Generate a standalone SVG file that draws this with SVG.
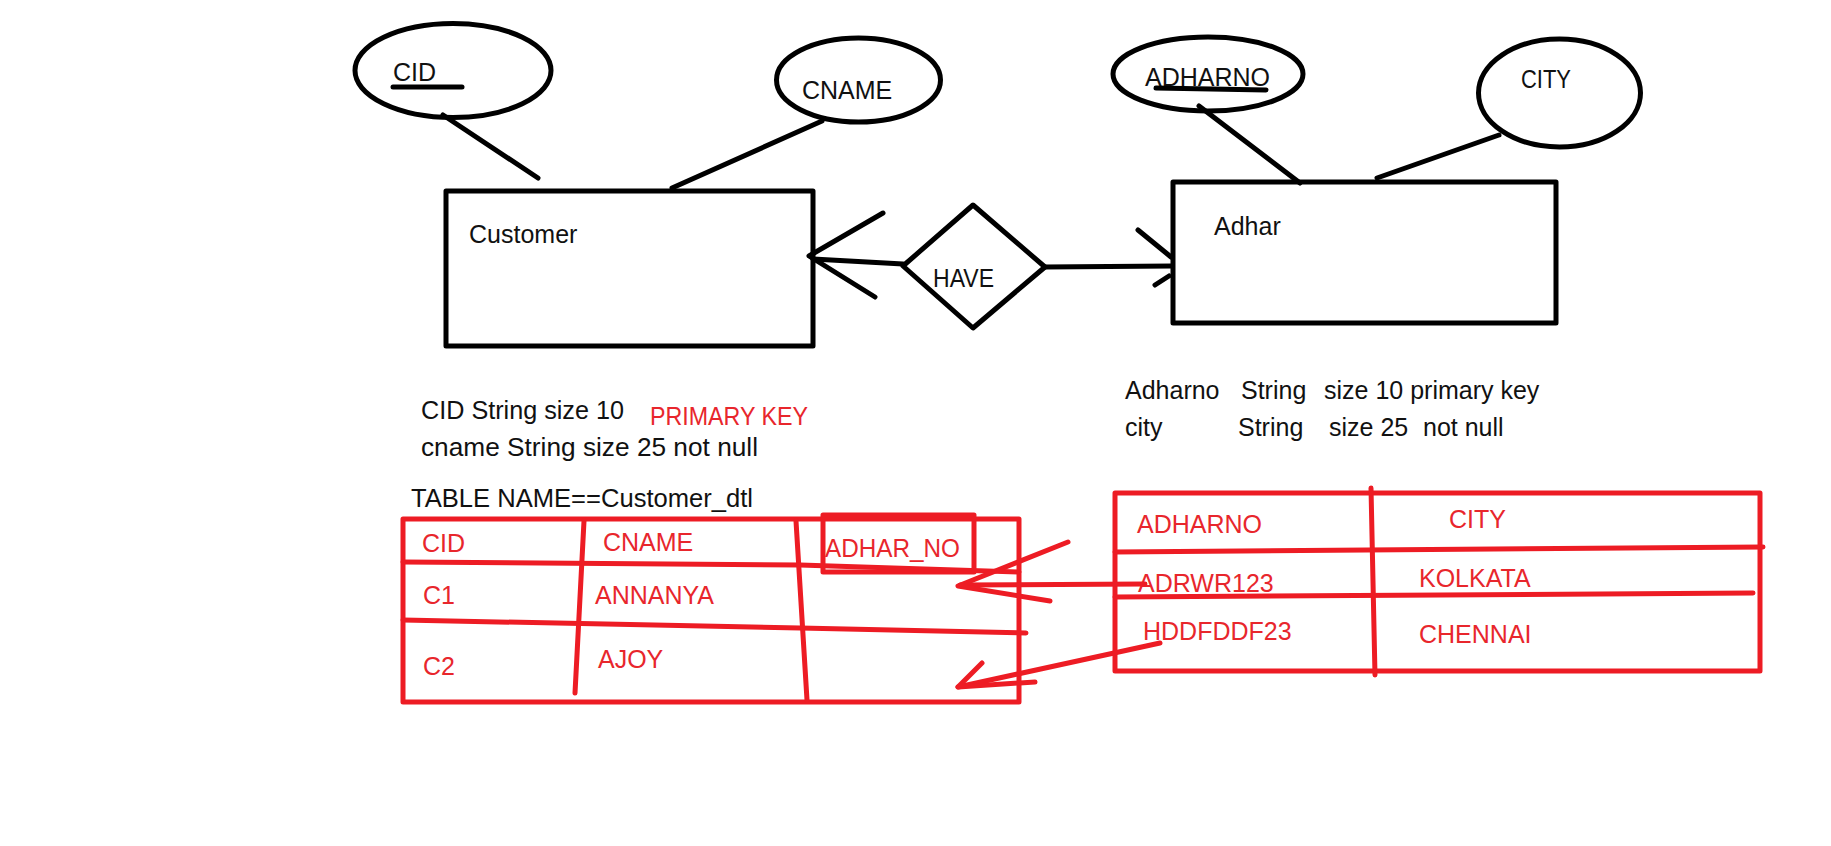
<svg xmlns="http://www.w3.org/2000/svg" width="1831" height="846" viewBox="0 0 1831 846">
<style>
.bk{fill:none;stroke:#000;stroke-width:5;stroke-linecap:round;stroke-linejoin:round}
.rd{fill:none;stroke:#ED1C24;stroke-width:5;stroke-linecap:round;stroke-linejoin:round}
.t{font-family:"Liberation Sans",Arial,sans-serif;font-size:25px;fill:#111}
.r{font-family:"Liberation Sans",Arial,sans-serif;font-size:25px;fill:#E8262C}
</style>
<rect width="1831" height="846" fill="#fff"/>
<g id="connectors">
<line class="bk" x1="443" y1="115" x2="538" y2="178"/>
<line class="bk" x1="822" y1="121" x2="672" y2="188"/>
<line class="bk" x1="1199" y1="106" x2="1300" y2="183"/>
<line class="bk" x1="1499" y1="135" x2="1377" y2="178"/>
<line class="bk" x1="813" y1="259" x2="903" y2="264"/>
<polyline class="bk" points="883,213 809,256 875,297"/>
<line class="bk" x1="1045" y1="267" x2="1172" y2="266"/>
<line class="bk" x1="1138" y1="230" x2="1171" y2="257"/>
<line class="bk" x1="1155" y1="285" x2="1169" y2="276"/>
</g>
<g id="attr-cid">
<ellipse class="bk" cx="453" cy="70.5" rx="98" ry="47"/>
<text class="t" x="393" y="81" font-size="24">CID</text>
<line class="bk" x1="393" y1="87" x2="462" y2="87"/>
</g>
<g id="attr-cname">
<ellipse class="bk" cx="858.5" cy="80" rx="82" ry="42"/>
<text class="t" x="802" y="99">CNAME</text>
</g>
<g id="attr-adharno">
<ellipse class="bk" cx="1208" cy="74" rx="95" ry="37"/>
<text class="t" x="1145" y="86">ADHARNO</text>
<line class="bk" x1="1156" y1="88" x2="1266" y2="90" stroke-width="4"/>
</g>
<g id="attr-city">
<ellipse class="bk" cx="1559.5" cy="93" rx="81" ry="54"/>
<text class="t" x="1521" y="88" textLength="50" lengthAdjust="spacingAndGlyphs">CITY</text>
</g>
<g id="entity-customer">
<rect class="bk" x="446" y="191" width="367" height="155"/>
<text class="t" x="469" y="243" font-size="26">Customer</text>
</g>
<g id="rel-have">
<polygon class="bk" points="903,266 973,205 1045,267 973,328"/>
<text class="t" x="933" y="287" font-size="24" textLength="61" lengthAdjust="spacingAndGlyphs">HAVE</text>
</g>
<g id="entity-adhar">
<rect class="bk" x="1173" y="182" width="383" height="141"/>
<text class="t" x="1214" y="235" font-size="26">Adhar</text>
</g>
<g id="notes-customer">
<text class="t" x="421" y="419" textLength="203" lengthAdjust="spacingAndGlyphs">CID String size 10</text>
<text class="r" x="650" y="425" font-size="24" textLength="158" lengthAdjust="spacingAndGlyphs">PRIMARY KEY</text>
<text class="t" x="421" y="456" font-size="26" textLength="337" lengthAdjust="spacingAndGlyphs">cname String size 25 not null</text>
<text class="t" x="411" y="507" font-size="25.5" textLength="342" lengthAdjust="spacingAndGlyphs">TABLE NAME==Customer_dtl</text>
</g>
<g id="notes-adhar">
<text class="t" y="399" font-size="26"><tspan x="1125">Adharno</tspan> <tspan x="1241">String</tspan> <tspan x="1324">size 10 primary key</tspan></text>
<text class="t" y="436" font-size="26"><tspan x="1125">city</tspan> <tspan x="1238">String</tspan> <tspan x="1329">size 25</tspan> <tspan x="1423">not null</tspan></text>
</g>
<g id="table-customer">
<rect class="rd" x="403" y="519" width="616" height="183"/>
<polyline class="rd" points="403,562 800,565 1019,572"/>
<polyline class="rd" points="403,620 800,628 1026,633"/>
<line class="rd" x1="584" y1="521" x2="575" y2="693"/>
<line class="rd" x1="796" y1="521" x2="807" y2="700"/>
<rect class="rd" x="823" y="515" width="151" height="57"/>
<text class="r" x="422" y="552">CID</text>
<text class="r" x="603" y="551">CNAME</text>
<text class="r" x="825" y="557" textLength="135" lengthAdjust="spacingAndGlyphs">ADHAR_NO</text>
<text class="r" x="423" y="604">C1</text>
<text class="r" x="595" y="604">ANNANYA</text>
<text class="r" x="423" y="675">C2</text>
<text class="r" x="598" y="668">AJOY</text>
</g>
<g id="table-adhar">
<rect class="rd" x="1115" y="493" width="645" height="178"/>
<line class="rd" x1="1371" y1="488" x2="1375" y2="675"/>
<line class="rd" x1="1115" y1="552" x2="1763" y2="547"/>
<line class="rd" x1="1115" y1="597" x2="1753" y2="593"/>
<text class="r" x="1137" y="533">ADHARNO</text>
<text class="r" x="1449" y="528">CITY</text>
<text class="r" x="1138" y="592">ADRWR123</text>
<text class="r" x="1419" y="587">KOLKATA</text>
<text class="r" x="1143" y="640">HDDFDDF23</text>
<text class="r" x="1419" y="643">CHENNAI</text>
</g>
<g id="fk-arrows">
<line class="rd" x1="1145" y1="584" x2="960" y2="585"/>
<polyline class="rd" points="1068,542 958,586 1050,601"/>
<line class="rd" x1="1160" y1="643" x2="958" y2="687"/>
<polyline class="rd" points="982,663 958,687 1035,682"/>
</g>
</svg>
